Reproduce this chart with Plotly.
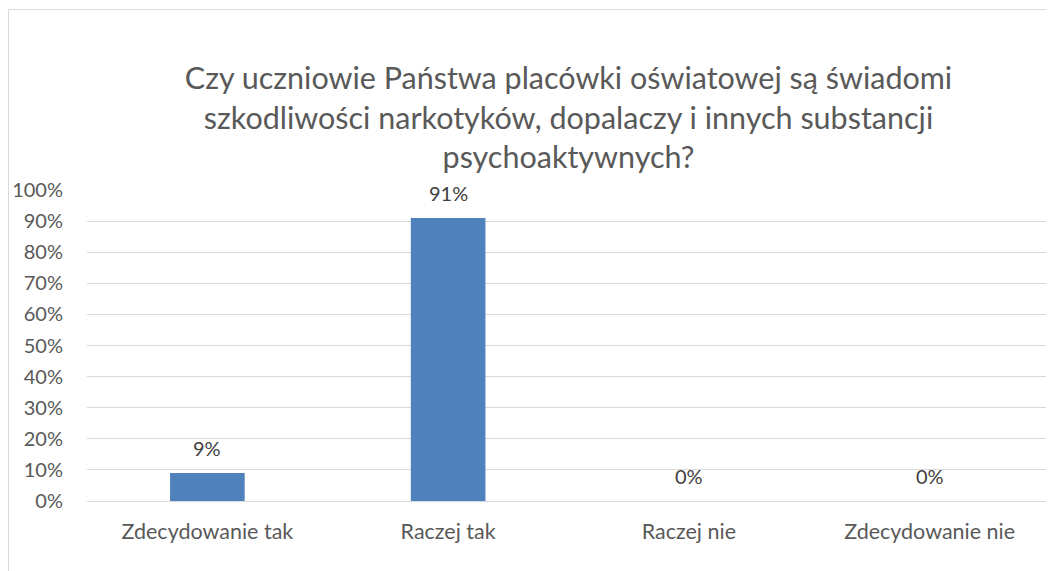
import plotly.graph_objects as go

categories = ["Zdecydowanie tak", "Raczej tak", "Raczej nie", "Zdecydowanie nie"]
shares = [0.09, 0.91, 0.0, 0.0]
labels = ["9%", "91%", "0%", "0%"]

TITLE = ("Czy uczniowie Państwa placówki oświatowej są świadomi<br>"
         "szkodliwości narkotyków, dopalaczy i innych substancji<br>"
         "psychoaktywnych?")

FONT = "Lato"
GREY = "#595959"

fig = go.Figure()

fig.add_trace(
    go.Bar(
        x=categories,
        y=shares,
        marker=dict(color="#4F81BD", line=dict(width=0)),
        hoverinfo="skip",
    )
)

# data labels above bars
for c, v, t in zip(categories, shares, labels):
    fig.add_annotation(
        x=c, y=v, text=t, showarrow=False,
        yshift=25, yanchor="middle",
        font=dict(family=FONT, size=20, color="#404040"),
    )

# chart border (only top/left visible in the crop)
fig.add_shape(
    type="rect", xref="paper", yref="paper",
    x0=-0.0815, x1=1.2, y0=-0.5, y1=1.58,
    line=dict(color="#D9D9D9", width=1),
)

fig.update_layout(
    width=1054,
    height=571,
    margin=dict(l=79, r=12, t=182, b=78, autoexpand=False),
    paper_bgcolor="white",
    plot_bgcolor="white",
    showlegend=False,
    bargap=0.69,
    title=dict(
        text=TITLE,
        x=0.5, xref="paper", xanchor="center",
        y=0.858, yref="container", yanchor="middle",
        font=dict(family=FONT, size=30.5, color=GREY),
    ),
    font=dict(family=FONT, size=20, color=GREY),
    xaxis=dict(
        showgrid=False,
        showline=False,
        ticks="",
        automargin=False,
        ticklabelstandoff=15,
        tickfont=dict(size=21.5, color=GREY),
    ),
    yaxis=dict(
        range=[0, 1],
        dtick=0.1,
        tickformat=".0%",
        showgrid=True,
        gridcolor="#D9D9D9",
        gridwidth=1,
        zeroline=True,
        zerolinecolor="#D9D9D9",
        zerolinewidth=1,
        showline=False,
        ticks="",
        automargin=False,
        ticklabelstandoff=23,
        tickfont=dict(size=20, color=GREY),
    ),
)

fig.write_html("out.html")
